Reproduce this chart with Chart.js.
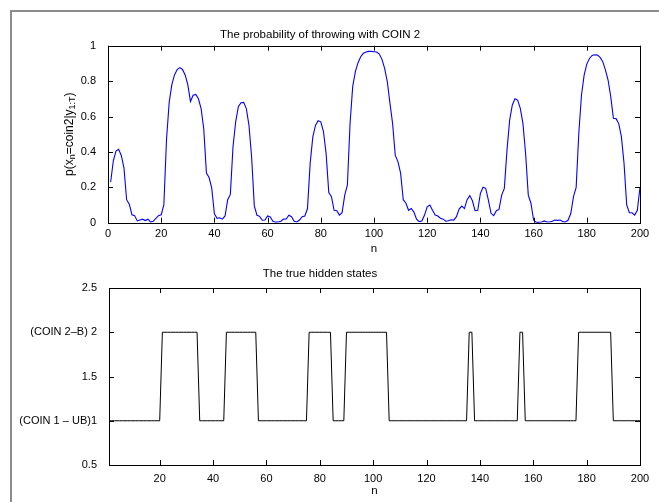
<!DOCTYPE html>
<html>
<head>
<meta charset="utf-8">
<script src="https://cdn.jsdelivr.net/npm/chart.js@4.4.1/dist/chart.umd.min.js"></script>
<style>
  html, body { margin: 0; padding: 0; background: #fff; }
  body { width: 659px; height: 502px; position: relative; overflow: hidden; }
  #frame { position: absolute; left: 10px; top: 10px; width: 700px; height: 600px; border-left: 2px solid #8c8c8c; border-top: 2px solid #8c8c8c; }
  canvas { position: absolute; left: 0; }
  #prob-chart { top: 0; }
  #state-chart { top: 255px; }
</style>
</head>
<body>
<div id="frame"></div>
<canvas id="prob-chart" width="659" height="260"></canvas>
<canvas id="state-chart" width="659" height="247"></canvas>
<script>
// time steps n = 1..200
const steps = Array.from({ length: 200 }, (_, i) => i + 1);

// p(x_n = coin2 | y_1:T)
const probCoin2 = [
    0.23, 0.35, 0.405, 0.415, 0.38, 0.31, 0.13, 0.105, 0.045, 0.04,
    0.01, 0.015, 0.02, 0.012, 0.02, 0.005, 0.008, 0.025, 0.04, 0.045,
    0.1, 0.47, 0.68, 0.78, 0.835, 0.865, 0.876, 0.866, 0.835, 0.78,
    0.685, 0.72, 0.725, 0.70, 0.645, 0.53, 0.28, 0.255, 0.195, 0.05,
    0.025, 0.028, 0.02, 0.038, 0.13, 0.16, 0.43, 0.57, 0.655, 0.678,
    0.68, 0.645, 0.55, 0.37, 0.095, 0.042, 0.036, 0.014, 0.015, 0.038,
    0.032, 0.008, 0.003, 0.004, 0.008, 0.02, 0.021, 0.042, 0.034, 0.008,
    0.004, 0.015, 0.034, 0.038, 0.08, 0.335, 0.485, 0.55, 0.576, 0.57,
    0.515, 0.39, 0.17, 0.147, 0.07, 0.068, 0.043, 0.057, 0.156, 0.213,
    0.56, 0.77, 0.853, 0.904, 0.938, 0.957, 0.964, 0.968, 0.968, 0.966,
    0.964, 0.953, 0.923, 0.872, 0.797, 0.674, 0.56, 0.38, 0.345, 0.28,
    0.13, 0.11, 0.07, 0.08, 0.06, 0.02, 0.006, 0.01, 0.043, 0.09,
    0.10, 0.07, 0.043, 0.038, 0.025, 0.02, 0.008, 0.011, 0.017, 0.015,
    0.034, 0.077, 0.094, 0.08, 0.13, 0.153, 0.124, 0.068, 0.07, 0.166,
    0.2, 0.194, 0.128, 0.053, 0.04, 0.068, 0.075, 0.156, 0.194, 0.41,
    0.58, 0.665, 0.70, 0.693, 0.646, 0.56, 0.39, 0.156, 0.11, 0.015,
    0.002, 0.002, 0.004, 0.01, 0.004, 0.004, 0.008, 0.015, 0.013, 0.015,
    0.006, 0.004, 0.015, 0.053, 0.147, 0.2, 0.505, 0.72, 0.834, 0.896,
    0.928, 0.945, 0.949, 0.947, 0.934, 0.91, 0.863, 0.806, 0.712, 0.59,
    0.588, 0.56, 0.486, 0.335, 0.1, 0.056, 0.056, 0.043, 0.07, 0.2
];

// true hidden state per step (1 = coin 1, 2 = coin 2)
const hiddenStates = [
    1, 1, 1, 1, 1, 1, 1, 1, 1, 1, 1, 1, 1, 1, 1, 1, 1, 1, 1, 1,
    2, 2, 2, 2, 2, 2, 2, 2, 2, 2, 2, 2, 2, 2, 1, 1, 1, 1, 1, 1,
    1, 1, 1, 1, 2, 2, 2, 2, 2, 2, 2, 2, 2, 2, 2, 2, 1, 1, 1, 1,
    1, 1, 1, 1, 1, 1, 1, 1, 1, 1, 1, 1, 1, 1, 1, 2, 2, 2, 2, 2,
    2, 2, 2, 2, 1, 1, 1, 1, 1, 2, 2, 2, 2, 2, 2, 2, 2, 2, 2, 2,
    2, 2, 2, 2, 2, 1, 1, 1, 1, 1, 1, 1, 1, 1, 1, 1, 1, 1, 1, 1,
    1, 1, 1, 1, 1, 1, 1, 1, 1, 1, 1, 1, 1, 1, 1, 2, 2, 1, 1, 1,
    1, 1, 1, 1, 1, 1, 1, 1, 1, 1, 1, 1, 1, 1, 2, 2, 1, 1, 1, 1,
    1, 1, 1, 1, 1, 1, 1, 1, 1, 1, 1, 1, 1, 1, 1, 1, 2, 2, 2, 2,
    2, 2, 2, 2, 2, 2, 2, 2, 2, 1, 1, 1, 1, 1, 1, 1, 1, 1, 1, 1
];

const probXTicks = [0, 20, 40, 60, 80, 100, 120, 140, 160, 180, 200];
const probYTicks = [0, 0.2, 0.4, 0.6, 0.8, 1];
const stateXTicks = [20, 40, 60, 80, 100, 120, 140, 160, 180, 200];
const stateYTicks = [0.5, 1, 1.5, 2, 2.5];
const stateTickLabels = { 1: '(COIN 1 \u2013 UB)1', 2: '(COIN 2\u2013B) 2' };

Chart.defaults.font.family = '"Liberation Sans", Arial, Helvetica, sans-serif';
Chart.defaults.font.size = 11;
Chart.defaults.color = '#000';

// box round the plot area with inward ticks on all four sides
const matlabAxes = {
    id: 'matlabAxes',
    afterDatasetsDraw(chart) {
        const { ctx, chartArea: a, scales: { x, y } } = chart;
        const len = 5;
        ctx.save();
        ctx.strokeStyle = '#000';
        ctx.lineWidth = 1;
        ctx.beginPath();
        x.ticks.forEach(t => {
            const px = Math.round(x.getPixelForValue(t.value)) + 0.5;
            ctx.moveTo(px, a.bottom); ctx.lineTo(px, a.bottom - len);
            ctx.moveTo(px, a.top); ctx.lineTo(px, a.top + len);
        });
        y.ticks.forEach(t => {
            const py = Math.round(y.getPixelForValue(t.value)) + 0.5;
            ctx.moveTo(a.left, py); ctx.lineTo(a.left + len, py);
            ctx.moveTo(a.right, py); ctx.lineTo(a.right - len, py);
        });
        ctx.stroke();
        ctx.strokeRect(Math.round(a.left) + 0.5, Math.round(a.top) + 0.5,
            Math.round(a.width), Math.round(a.height));
        ctx.restore();
    }
};

// rotated y label with subscripts: p(x_n=coin2|y_1:T)
const probYLabel = {
    id: 'probYLabel',
    afterDraw(chart) {
        const { ctx, chartArea: a } = chart;
        const parts = [
            ['p(x', 12, 0], ['n', 9, 3], ['=coin2|y', 12, 0], ['1:T', 9, 3], [')', 12, 0]
        ];
        const family = Chart.defaults.font.family;
        ctx.save();
        let total = 0;
        parts.forEach(([t, s]) => { ctx.font = `${s}px ${family}`; total += ctx.measureText(t).width; });
        ctx.translate(70, (a.top + a.bottom) / 2);
        ctx.rotate(-Math.PI / 2);
        ctx.fillStyle = '#000';
        ctx.textBaseline = 'middle';
        let cx = -total / 2;
        parts.forEach(([t, s, dy]) => {
            ctx.font = `${s}px ${family}`;
            ctx.fillText(t, cx, dy);
            cx += ctx.measureText(t).width;
        });
        ctx.restore();
    }
};

function axisOptions(o) {
    return {
        x: {
            type: 'linear', min: o.xMin, max: o.xMax,
            grid: { display: false }, border: { display: false },
            afterBuildTicks: s => { s.ticks = o.xTicks.map(v => ({ value: v })); },
            afterFit: s => { s.height = o.xHeight; },
            ticks: { autoSkip: false, maxRotation: 0, padding: o.xPad, callback: v => String(v) },
            title: { display: true, text: 'n', font: { size: 11.5 }, padding: { top: 0, bottom: o.nPad } }
        },
        y: {
            min: o.yMin, max: o.yMax,
            grid: { display: false }, border: { display: false },
            afterBuildTicks: s => { s.ticks = o.yTicks.map(v => ({ value: v })); },
            afterFit: s => { s.width = o.yWidth; },
            ticks: { autoSkip: false, padding: 4, callback: o.yLabel }
        }
    };
}

const probChart = new Chart(document.getElementById('prob-chart'), {
    type: 'line',
    data: {
        labels: steps,
        datasets: [{ data: probCoin2, borderColor: '#0000ff', borderWidth: 1.1, pointRadius: 0, tension: 0 }]
    },
    options: {
        responsive: false, animation: false,
        layout: { padding: { left: 0, right: 19, top: 0, bottom: 0 } },
        plugins: {
            legend: { display: false }, tooltip: { enabled: false },
            title: { display: true, text: 'The probability of throwing with COIN 2', font: { size: 11.5, weight: 'normal' }, padding: { top: 27.5, bottom: 4.4 } }
        },
        scales: axisOptions({
            xMin: 0, xMax: 200, xTicks: probXTicks, xHeight: 37.3, xPad: -3.6, nPad: 4,
            yMin: 0, yMax: 1, yTicks: probYTicks, yWidth: 108, yLabel: v => String(v)
        })
    },
    plugins: [matlabAxes, probYLabel]
});

const stateChart = new Chart(document.getElementById('state-chart'), {
    type: 'line',
    data: {
        labels: steps,
        datasets: [{ data: hiddenStates, borderColor: '#000', borderWidth: 1, pointRadius: 0, tension: 0 }]
    },
    options: {
        responsive: false, animation: false,
        layout: { padding: { left: 0, right: 19, top: 0, bottom: 0 } },
        plugins: {
            legend: { display: false }, tooltip: { enabled: false },
            title: { display: true, text: 'The true hidden states', font: { size: 11.5, weight: 'normal' }, padding: { top: 12, bottom: 7.2 } }
        },
        scales: axisOptions({
            xMin: 1, xMax: 200, xTicks: stateXTicks, xHeight: 37, xPad: -1, nPad: 4,
            yMin: 0.5, yMax: 2.5, yTicks: stateYTicks, yWidth: 109, yLabel: v => stateTickLabels[v] || String(v)
        })
    },
    plugins: [matlabAxes]
});
</script>
</body>
</html>
